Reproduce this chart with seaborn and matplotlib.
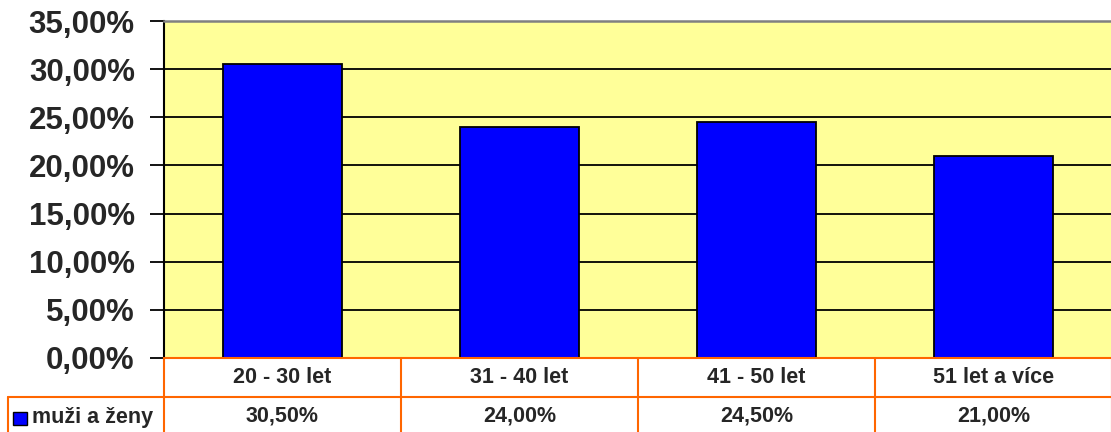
import matplotlib
matplotlib.use('Agg')  # headless
import matplotlib.pyplot as plt
import matplotlib.transforms as mtransforms
from matplotlib.patches import Rectangle
from matplotlib.lines import Line2D
import pandas as pd
import seaborn as sns

categories = ["20 - 30 let", "31 - 40 let", "41 - 50 let", "51 let a více"]
values = [30.5, 24.0, 24.5, 21.0]
series_name = "muži a ženy"
y_ticks = [0, 5, 10, 15, 20, 25, 30, 35]


def pct(v):
    return f"{v:.2f}".replace(".", ",") + "%"


sns.set_style("white")
plt.rcParams['font.family'] = ['Liberation Sans', 'DejaVu Sans']
plt.rcParams['font.weight'] = 'bold'

W, H = 1111, 432
fig = plt.figure(figsize=(W / 100, H / 100), dpi=100)
ax = fig.add_axes([164 / W, 74 / H, 948 / W, 337 / H])
ax.set_facecolor('#FFFF99')

df = pd.DataFrame({"kategorie": categories, "hodnota": values})
sns.barplot(data=df, x="kategorie", y="hodnota", color="#0000FF", saturation=1,
            width=0.5, edgecolor="black", linewidth=1.3, ax=ax, zorder=3)

ax.set_xlim(-0.5, len(categories) - 0.5)
ax.set_ylim(0, 35)
ax.set_yticks(y_ticks)
ax.set_yticklabels([pct(t) for t in y_ticks], fontsize=22.5, fontweight='bold')
ax.set_xticks([])
ax.set_xlabel("")
ax.set_ylabel("")
ax.yaxis.grid(True, color='black', linewidth=1.3)
ax.set_axisbelow(True)
ax.tick_params(axis='y', length=10, width=1.3, pad=11, direction='out', color='black', left=True)

orange = '#FF6600'
ax.spines['right'].set_visible(False)
ax.spines['top'].set_color('#808080')
ax.spines['top'].set_linewidth(1.8)
ax.spines['left'].set_color('black')
ax.spines['left'].set_linewidth(1.5)
ax.spines['bottom'].set_color(orange)
ax.spines['bottom'].set_linewidth(1.5)
ax.spines['bottom'].set_zorder(5)

# data table under the plot
trans = mtransforms.blended_transform_factory(ax.transData, ax.transAxes)
row1 = -39 / 337
row_bottom = -74 / 337
for i in range(len(categories) + 1):
    ax.add_line(Line2D([i - 0.5, i - 0.5], [0, row_bottom], transform=trans,
                       color=orange, lw=1.5, clip_on=False))
for i, (cat, val) in enumerate(zip(categories, values)):
    ax.text(i, row1 / 2, cat, transform=trans, ha='center', va='center',
            fontsize=15.5, fontweight='bold', clip_on=False)
    ax.text(i, -58 / 337, pct(val), transform=trans, ha='center', va='center',
            fontsize=15.5, fontweight='bold', clip_on=False)

# row separator and legend cell (figure coords)
fig.add_artist(Line2D([8 / W, 1], [35 / H, 35 / H], transform=fig.transFigure,
                      color=orange, lw=1.5))
fig.add_artist(Line2D([8 / W, 8 / W], [0, 35 / H], transform=fig.transFigure,
                      color=orange, lw=1.5))
fig.add_artist(Rectangle((13 / W, 7 / H), 14 / W, 13 / H, transform=fig.transFigure,
                         facecolor='#0000FF', edgecolor='black', lw=1))
fig.text(32 / W, 15 / H, series_name, ha='left', va='center', fontsize=15.5, fontweight='bold')

fig.savefig("out.png", dpi=100)
